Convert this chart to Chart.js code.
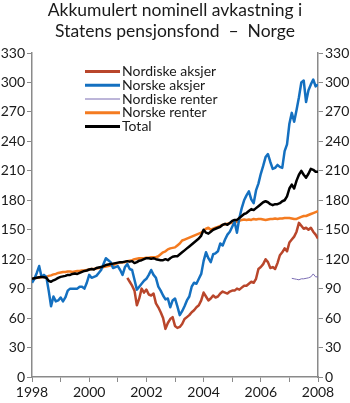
<!DOCTYPE html>
<html><head><meta charset="utf-8">
<script src="https://cdn.jsdelivr.net/npm/chart.js@4/dist/chart.umd.min.js"></script>
<style>html,body{margin:0;padding:0;background:#fff}#wrap{width:350px;height:403px;position:relative}</style>
</head><body><div id="wrap"><canvas id="c" width="350" height="403"></canvas></div>
<script>
const titleLines = ['Akkumulert nominell avkastning i', 'Statens pensjonsfond  \u2013  Norge'];
const seriesNames = ['Nordiske aksjer', 'Norske aksjer', 'Nordiske renter', 'Norske renter', 'Total'];
const startYear = 1998;
const endYear = 2008;
const yTicks = [0, 30, 60, 90, 120, 150, 180, 210, 240, 270, 300, 330];
const xLabelYears = [1998, 2000, 2002, 2004, 2006, 2008];

// monthly values, index 0 = start of 1998
const nordiskeAksjerStart = 40;
const nordiskeAksjer = [101, 97, 93, 88, 73, 80, 90, 86,
  89, 84, 83, 85, 75, 71, 66, 60, 49, 55, 59, 61,
  52, 50, 51, 54, 59, 61, 63, 66, 68, 71, 73, 78,
  86, 82, 78, 80, 83, 81, 82, 85, 87, 86, 85, 87,
  88, 88, 90, 89, 91, 93, 93, 95, 97, 96, 100, 110,
  112, 115, 120, 117, 111, 112, 110, 116, 124, 127, 131, 128,
  137, 140, 143, 148, 157, 154, 151, 152, 150, 152, 148, 145, 141];
const norskeAksjerStart = 0;
const norskeAksjer = [96, 100, 106, 113, 102, 104, 102, 88, 72, 82, 77, 78,
  81, 77, 81, 88, 90, 90, 90, 90, 92, 92, 90, 96,
  104, 101, 102, 103, 106, 109, 115, 121, 119, 117, 111, 112,
  113, 109, 104, 112, 115, 110, 109, 99, 89, 92, 95, 98,
  100, 104, 109, 104, 101, 92, 88, 83, 79, 80, 71, 78,
  80, 72, 63, 67, 72, 78, 82, 92, 96, 95, 100, 105,
  118, 127, 121, 117, 125, 126, 128, 136, 134, 140, 145, 148,
  153, 158, 147, 162, 172, 180, 185, 189, 181, 177, 190, 197,
  207, 215, 224, 227, 219, 212, 213, 216, 214, 213, 230, 237,
  258, 269, 260, 272, 285, 300, 302, 280, 292, 298, 303, 296, 298];
const nordiskeRenterStart = 109;
const nordiskeRenter = [100.5, 100, 99.5, 99, 100, 100, 100.5, 101, 102, 105, 102, 102];
const norskeRenterStart = 0;
const norskeRenter = [100, 100.5, 101, 101, 101.5, 102, 102, 103, 103.5, 104.5, 105, 106,
  106.5, 107, 107, 107.5, 107.5, 107, 107.5, 108, 108, 108.5, 108.5, 109,
  109.5, 110, 110, 110.5, 111, 111, 112, 112.5, 113, 113.5, 114, 115,
  116, 116.5, 117, 117, 118, 118.5, 119, 120, 120.5, 121, 121, 121,
  121.5, 121.5, 122, 122, 122, 123, 125, 127, 128, 130, 131, 131.5,
  132, 134, 136, 139, 140, 141, 142, 143, 144, 145, 146, 147,
  149, 151, 152, 150, 151, 152, 153, 154, 155, 155.5, 156, 156.5,
  157, 157.5, 158, 159, 160, 160.5, 160, 160.5, 160, 161, 160.5, 161,
  161, 160.5, 160, 160.5, 161, 161, 161.5, 161, 161.5, 161.5, 162, 162,
  162, 161.5, 161, 161, 162, 163, 164, 164, 165, 166, 167, 168, 169];
const totalStart = 0;
const total = [100, 100.5, 101, 101.5, 102, 101.5, 101, 98, 97, 98.5, 99.5, 101,
  102, 102.5, 103, 104, 104, 105, 105.5, 105, 106, 107, 108, 108.5,
  109.5, 110, 109.5, 111, 111.5, 112, 113, 114, 114.5, 115, 115.5, 116,
  116.5, 117, 117, 117.5, 118, 117.5, 118, 116, 117, 118.5, 119, 120,
  121, 121, 120.5, 121, 120, 119.5, 119, 119, 120, 119, 121, 122.5,
  123, 123, 125, 127, 129, 131, 133, 135, 137, 139, 141, 144,
  150, 147, 146, 148, 150, 151, 152, 153, 155, 156, 155, 157,
  159, 160, 160, 162, 164, 166, 167, 169, 171, 170, 172, 174,
  176, 178, 179, 178, 176, 175, 176, 176, 177, 179, 180, 184,
  192, 196, 192, 200, 206, 210, 206, 203, 207, 212, 211, 209, 209];

const colors = ['#b9462b', '#1470c0', '#7a6cb3', '#f47b20', '#000000'];
const widths = [2.5, 2.5, 1, 2.5, 2.5];
const drawOrder = [1, 2, 4, 3, 0];

function toPoints(start, arr) {
  return arr.map((v, i) => ({ x: startYear + (start + i) / 12, y: v }));
}
const seriesData = [
  toPoints(nordiskeAksjerStart, nordiskeAksjer),
  toPoints(norskeAksjerStart, norskeAksjer),
  toPoints(nordiskeRenterStart, nordiskeRenter),
  toPoints(norskeRenterStart, norskeRenter),
  toPoints(totalStart, total)
];

const FONT = 'Lato';
const axisColor = '#8a8a8a';
const textColor = '#1a1a1a';

const legendPlugin = {
  id: 'inLegend',
  afterDatasetsDraw(chart) {
    const ctx = chart.ctx, ca = chart.chartArea;
    const x0 = ca.left + 53, y0 = ca.top + 18.5, rowH = 13.75, lineLen = 35;
    ctx.save();
    ctx.font = '14px ' + FONT;
    ctx.textBaseline = 'middle';
    chart.data.datasets.forEach((ds, i) => {
      const y = y0 + i * rowH;
      ctx.strokeStyle = ds.borderColor;
      ctx.lineWidth = ds.borderWidth === 1 ? 1 : 3;
      ctx.beginPath(); ctx.moveTo(x0, y); ctx.lineTo(x0 + lineLen, y); ctx.stroke();
      ctx.fillStyle = textColor;
      ctx.fillText(ds.label, x0 + lineLen + 2, y);
    });
    ctx.restore();
  }
};

new Chart(document.getElementById('c'), {
  type: 'line',
  data: {
    datasets: seriesNames.map((name, i) => ({
      label: name,
      data: seriesData[i],
      borderColor: colors[i],
      backgroundColor: colors[i],
      borderWidth: widths[i],
      pointRadius: 0,
      tension: 0,
      order: drawOrder[i],
      yAxisID: 'y',
      borderJoinStyle: 'round'
    }))
  },
  options: {
    responsive: false,
    animation: false,
    devicePixelRatio: 1,
    layout: { padding: { left: 0, right: 0, top: 0, bottom: 0 } },
    plugins: {
      legend: { display: false },
      tooltip: { enabled: false },
      title: {
        display: true,
        text: titleLines,
        color: textColor,
        font: { family: FONT, size: 17.5, weight: 'normal', lineHeight: 1.2 },
        padding: { top: 0, bottom: 11 }
      }
    },
    scales: {
      x: {
        type: 'linear', min: startYear, max: endYear,
        ticks: {
          stepSize: 1, autoSkip: false, maxRotation: 0, padding: 2,
          color: textColor, font: { family: FONT, size: 14 },
          callback: v => xLabelYears.includes(v) ? String(v) : ''
        },
        grid: { display: true, drawOnChartArea: false, drawTicks: true, tickLength: 5, color: axisColor, lineWidth: 1 },
        border: { display: true, color: axisColor, width: 1.5 },
        afterFit: s => { s.height = 26; }
      },
      y: {
        position: 'left', min: 0, max: 330,
        afterBuildTicks: s => { s.ticks = yTicks.map(v => ({ value: v })); },
        ticks: { color: textColor, font: { family: FONT, size: 14 }, padding: 2 },
        grid: { display: true, drawOnChartArea: false, drawTicks: true, tickLength: 5, color: axisColor },
        border: { display: true, color: axisColor, width: 1.5 },
        afterFit: s => { s.width = 32; }
      },
      y2: {
        position: 'right', min: 0, max: 330,
        afterBuildTicks: s => { s.ticks = yTicks.map(v => ({ value: v })); },
        ticks: { color: textColor, font: { family: FONT, size: 14 }, padding: 2 },
        grid: { display: true, drawOnChartArea: false, drawTicks: true, tickLength: 5, color: axisColor },
        border: { display: true, color: axisColor, width: 1.5 },
        afterFit: s => { s.width = 32; }
      }
    }
  },
  plugins: [legendPlugin]
});
</script>
</body></html>
